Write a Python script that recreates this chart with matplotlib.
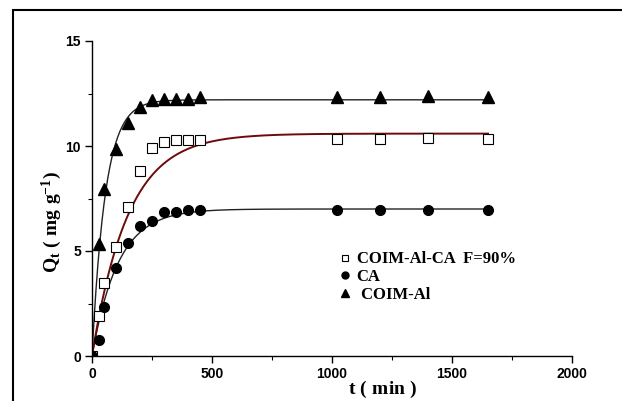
import numpy as np
import matplotlib
matplotlib.use("Agg")
import matplotlib.pyplot as plt
from matplotlib.patches import Rectangle
from matplotlib.lines import Line2D

plt.rcParams.update({
    "font.family": "Liberation Sans",
    "mathtext.fontset": "custom",
    "mathtext.rm": "Liberation Serif:bold",
    "mathtext.it": "Liberation Serif:bold",
    "mathtext.bf": "Liberation Serif:bold",
})

# contact time (min)
t = [0, 30, 50, 100, 150, 200, 250, 300, 350, 400, 450, 1020, 1200, 1400, 1650]

# measured uptake Qt (mg/g)
q_coim_al_ca = [0, 1.9, 3.5, 5.2, 7.1, 8.8, 9.9, 10.2, 10.3, 10.3, 10.3, 10.35, 10.35, 10.37, 10.35]
q_ca = [0, 0.78, 2.35, 4.2, 5.38, 6.19, 6.43, 6.84, 6.86, 6.94, 6.94, 6.94, 6.94, 6.94, 6.94]
q_coim_al = [0, 5.32, 7.94, 9.84, 11.1, 11.84, 12.19, 12.24, 12.24, 12.25, 12.33, 12.33, 12.35, 12.37, 12.35]

# fitted kinetic parameters (qe in mg/g, k in 1/min)
fit_coim_al_ca = (10.59, 0.0067)
fit_ca = (7.0, 0.0092)
fit_coim_al = (12.2, 0.018)


def model(tt, qe, k):
    return qe * (1.0 - np.exp(-k * tt))


fig = plt.figure(figsize=(6.22, 4.01), dpi=100)
ax = fig.add_axes([92 / 622, 45 / 401, 480 / 622, 315 / 401])

tt = np.linspace(0, 1650, 600)
ax.plot(tt, model(tt, *fit_coim_al), color="#222222", lw=1.0)
ax.plot(tt, model(tt, *fit_ca), color="#222222", lw=1.0)
ax.plot(tt, model(tt, *fit_coim_al_ca), color="#6e0a0a", lw=1.4)

ax.plot(t, q_coim_al_ca, ls="none", marker="s", ms=6.5, mfc="white", mec="black", mew=0.8)
ax.plot(t, q_ca, ls="none", marker="o", ms=7, color="black")
ax.plot(t, q_coim_al, ls="none", marker="^", ms=8.5, color="black")

ax.set_xlim(0, 2000)
ax.set_ylim(0, 15)
ax.set_xticks([0, 500, 1000, 1500, 2000])
ax.set_yticks([0, 5, 10, 15])
ax.set_xticks(np.arange(250, 2000, 500), minor=True)
ax.set_yticks([2.5, 7.5, 12.5], minor=True)
for s in ["top", "right"]:
    ax.spines[s].set_visible(False)
for s in ["left", "bottom"]:
    ax.spines[s].set_linewidth(1.0)
ax.tick_params(which="major", direction="out", length=5, width=1.0, pad=3)
ax.tick_params(which="minor", direction="out", length=3, width=0.8)
for lab in ax.get_xticklabels() + ax.get_yticklabels():
    lab.set_fontweight("bold")
    lab.set_fontsize(10)

ax.set_xlabel(r"$\mathrm{t\ (\ min\ )}$", fontsize=14, va="center")
ax.xaxis.set_label_coords(0.606, -0.105)
ax.set_ylabel(r"$\mathrm{Q_t\ (\ mg\ g^{-1})}$", fontsize=14, va="center")
ax.yaxis.set_label_coords(-0.083, 0.425)

handles = [
    Line2D([], [], ls="none", marker="s", ms=4.5, mfc="white", mec="black", mew=0.8),
    Line2D([], [], ls="none", marker="o", ms=5, color="black"),
    Line2D([], [], ls="none", marker="^", ms=5.5, color="black"),
]
labels = ["COIM-Al-CA  F=90%", "CA", " COIM-Al"]
fig.legend(handles, labels, loc="upper left", bbox_to_anchor=(330 / 622, 1 - 243 / 401),
           frameon=False, handlelength=0.8, handletextpad=0.3, borderpad=0,
           labelspacing=0.1, prop={"family": "Liberation Serif", "weight": "bold", "size": 12})

fig.add_artist(Rectangle((13 / 622, -0.1), 1.0, 1 - 10 / 401 + 0.1, transform=fig.transFigure,
                         fill=False, ec="black", lw=1.5, clip_on=False))

fig.savefig("out.png", dpi=100)
